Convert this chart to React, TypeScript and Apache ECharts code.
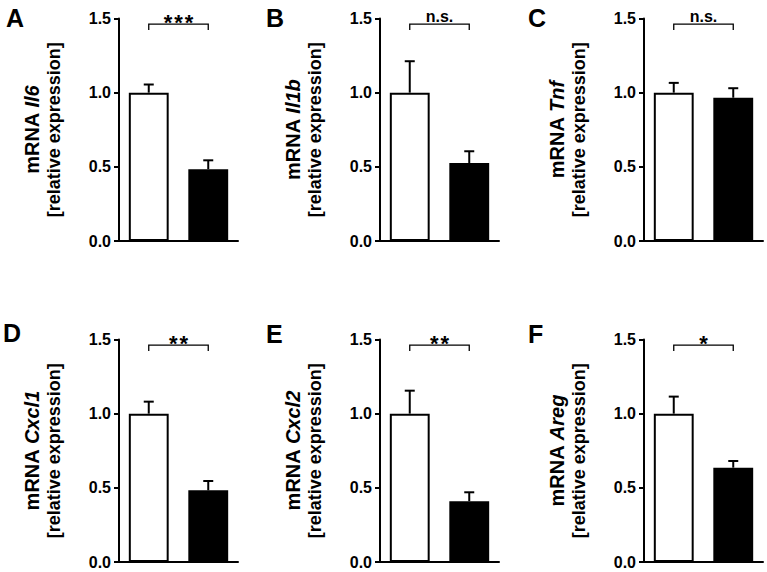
import React, { useEffect, useRef } from "react";
import * as echarts from "echarts";

const panelLetters = ["A", "B", "C", "D", "E", "F"];
const genes = ["Il6", "Il1b", "Tnf", "Cxcl1", "Cxcl2", "Areg"];
const groups = ["Control", "Treated"];
const controlMeans = [1.0, 1.0, 1.0, 1.0, 1.0, 1.0];
const controlSEM = [0.055, 0.212, 0.066, 0.081, 0.155, 0.115];
const treatedMeans = [0.484, 0.526, 0.966, 0.483, 0.41, 0.636];
const treatedSEM = [0.06, 0.079, 0.064, 0.063, 0.06, 0.045];
const significance = ["***", "n.s.", "n.s.", "**", "**", "*"];
const yMin = 0;
const yMax = 1.5;
const yInterval = 0.5;
const bracketLevel = 1.462;
const bracketTip = 1.422;

const FONT = "'Liberation Sans', Arial, sans-serif";

// layout (pixels)
const gridLefts = [119, 380, 644, 119, 380, 644];
const gridTops = [18.5, 18.5, 18.5, 339.5, 339.5, 339.5];
const gridWidth = 119;
const gridHeight = 222.5;
const letterPos = [
  [6, 5],
  [266, 5],
  [528, 5],
  [3, 320],
  [266, 321],
  [528, 321],
];

export default function App() {
  const ref = useRef<HTMLDivElement>(null);
  useEffect(() => {
    if (!ref.current) return;
    const chart = echarts.init(ref.current, undefined, { renderer: "svg" });

    const grid: any[] = [];
    const xAxis: any[] = [];
    const yAxis: any[] = [];
    const series: any[] = [];
    const graphic: any[] = [];

    genes.forEach((gene, i) => {
      grid.push({
        left: gridLefts[i],
        top: gridTops[i],
        width: gridWidth,
        height: gridHeight,
        containLabel: false,
      });
      xAxis.push({
        type: "category",
        gridIndex: i,
        data: groups,
        axisLine: { show: true, lineStyle: { color: "#000", width: 2 } },
        axisTick: { show: false },
        axisLabel: { show: false },
        splitLine: { show: false },
      });
      yAxis.push({
        type: "value",
        gridIndex: i,
        min: yMin,
        max: yMax,
        interval: yInterval,
        axisLine: { show: true, lineStyle: { color: "#000", width: 2 } },
        axisTick: { show: true, length: 5, lineStyle: { color: "#000", width: 2 } },
        axisLabel: {
          margin: 8,
          color: "#000",
          fontFamily: FONT,
          fontWeight: "bold",
          fontSize: 16,
          formatter: (v: number) => v.toFixed(1),
        },
        splitLine: { show: false },
        name: `{n|mRNA }{i|${gene}}\n{s|[relative expression]}`,
        nameLocation: "middle",
        nameGap: 54,
        nameTextStyle: {
          color: "#000",
          fontFamily: FONT,
          rich: {
            n: { fontSize: 20, fontWeight: "bold", fontFamily: FONT, color: "#000", lineHeight: 22 },
            i: {
              fontSize: 20,
              fontWeight: "bold",
              fontStyle: "italic",
              fontFamily: FONT,
              color: "#000",
              lineHeight: 22,
            },
            s: { fontSize: 18, fontWeight: "bold", fontFamily: FONT, color: "#000", lineHeight: 22 },
          },
        },
      });
      series.push({
        type: "bar",
        xAxisIndex: i,
        yAxisIndex: i,
        barWidth: "67%",
        data: [
          { value: controlMeans[i], itemStyle: { color: "#fff", borderColor: "#000", borderWidth: 2 } },
          { value: treatedMeans[i], itemStyle: { color: "#000", borderColor: "#000", borderWidth: 2 } },
        ],
        z: 2,
      });
      series.push({
        type: "custom",
        xAxisIndex: i,
        yAxisIndex: i,
        z: 3,
        encode: { x: 0, y: 1 },
        data: [
          [0, controlMeans[i], controlSEM[i]],
          [1, treatedMeans[i], treatedSEM[i]],
        ],
        renderItem: (params: any, api: any) => {
          const x = api.value(0);
          const m = api.value(1);
          const e = api.value(2);
          const p0 = api.coord([x, m]);
          const p1 = api.coord([x, m + e]);
          const style = { stroke: "#000", lineWidth: 2 };
          return {
            type: "group",
            children: [
              { type: "line", shape: { x1: p0[0], y1: p0[1], x2: p1[0], y2: p1[1] }, style },
              { type: "line", shape: { x1: p1[0] - 5, y1: p1[1], x2: p1[0] + 5, y2: p1[1] }, style },
            ],
          };
        },
      });
      series.push({
        type: "custom",
        xAxisIndex: i,
        yAxisIndex: i,
        z: 3,
        clip: false,
        encode: { x: 0, y: 1 },
        data: [[0, bracketLevel, 1, bracketTip]],
        renderItem: (params: any, api: any) => {
          const a = api.coord([api.value(0), api.value(1)]);
          const b = api.coord([api.value(2), api.value(1)]);
          const tip = api.coord([0, api.value(3)]);
          const style = { stroke: "#000", lineWidth: 1.3, fill: "none" };
          const label = significance[i];
          const isStar = label.indexOf("*") >= 0;
          const text = isStar ? label.split("").join("\u200A") : label;
          return {
            type: "group",
            children: [
              {
                type: "polyline",
                shape: {
                  points: [
                    [a[0], tip[1]],
                    [a[0], a[1]],
                    [b[0], b[1]],
                    [b[0], tip[1]],
                  ],
                },
                style,
              },
              {
                type: "text",
                x: (a[0] + b[0]) / 2,
                y: isStar ? a[1] - 1.5 : a[1] - 8,
                style: {
                  text,
                  fill: "#000",
                  font: isStar ? `bold 22px ${FONT}` : `bold 16px ${FONT}`,
                  align: "center",
                  verticalAlign: "middle",
                },
              },
            ],
          };
        },
      });
      graphic.push({
        type: "text",
        left: letterPos[i][0],
        top: letterPos[i][1],
        style: {
          text: panelLetters[i],
          fill: "#000",
          font: `bold 25px ${FONT}`,
        },
      });
    });

    chart.setOption({
      animation: false,
      backgroundColor: "#fff",
      grid,
      xAxis,
      yAxis,
      series,
      graphic,
    });
    return () => chart.dispose();
  }, []);
  return (
    <div
      ref={ref}
      style={{ position: "fixed", left: 0, top: 0, width: 767, height: 572 }}
    />
  );
}
